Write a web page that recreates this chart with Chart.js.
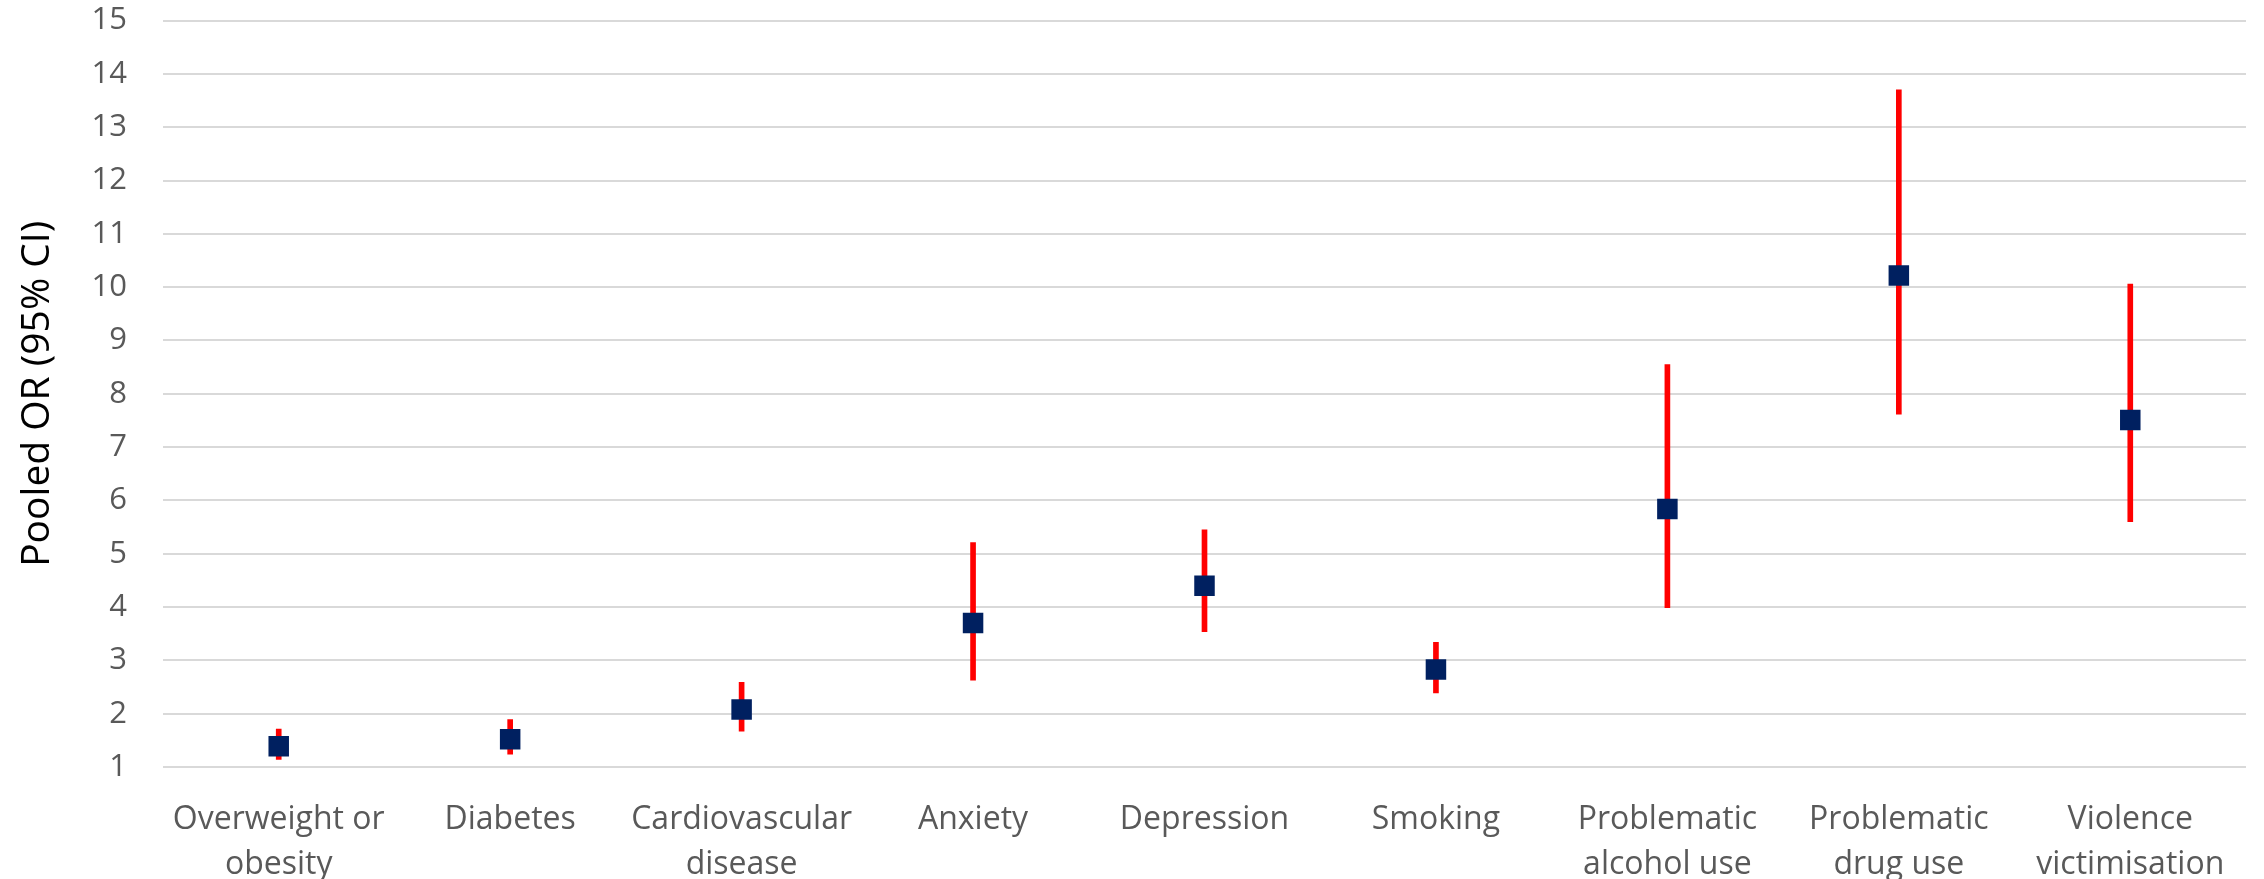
<!DOCTYPE html>
<html>
<head>
<meta charset="utf-8">
<script src="https://cdn.jsdelivr.net/npm/chart.js@4.4.1/dist/chart.umd.min.js"></script>
<style>
  html, body { margin: 0; padding: 0; background: #fff; }
  #wrap { width: 2264px; height: 879px; position: relative; }
</style>
</head>
<body>
<div id="wrap"><canvas id="orChart"></canvas></div>
<script>
const categories = [
    ['Overweight or', 'obesity'],
    'Diabetes',
    ['Cardiovascular', 'disease'],
    'Anxiety',
    'Depression',
    'Smoking',
    ['Problematic', 'alcohol use'],
    ['Problematic', 'drug use'],
    ['Violence', 'victimisation']
];
const pooledOR = [1.39, 1.52, 2.08, 3.70, 4.40, 2.83, 5.84, 10.22, 7.51];
const ciLower  = [1.14, 1.24, 1.67, 2.63, 3.54, 2.39, 3.99, 7.62, 5.60];
const ciUpper  = [1.71, 1.89, 2.59, 5.21, 5.45, 3.34, 8.55, 13.70, 10.06];
const yTicks = [1, 15];

document.addEventListener("DOMContentLoaded", () => {
    const ctx = document.getElementById('orChart').getContext('2d');
    const ciRanges = ciLower.map((lo, i) => [lo, ciUpper[i]]);

    new Chart(ctx, {
        data: {
            labels: categories,
            datasets: [{
                type: 'bar',
                label: '95% CI',
                data: ciRanges,
                backgroundColor: '#ff0000',
                borderWidth: 0,
                barThickness: 5,
                order: 2
            }, {
                type: 'line',
                label: 'Pooled OR',
                data: pooledOR,
                showLine: false,
                pointStyle: 'rect',
                pointRadius: 14.5,
                pointBackgroundColor: '#002060',
                pointBorderColor: '#002060',
                pointBorderWidth: 0,
                order: 1
            }]
        },
        options: {
            responsive: true,
            maintainAspectRatio: false,
            animation: false,
            layout: { padding: { top: 0, right: 18, left: 0, bottom: 0 } },
            plugins: {
                legend: { display: false },
                tooltip: { enabled: false }
            },
            scales: {
                x: {
                    offset: true,
                    grid: { display: false },
                    border: { display: false },
                    ticks: {
                        color: '#595959',
                        font: { family: 'Open Sans', size: 32, lineHeight: 1.42 },
                        maxRotation: 0,
                        autoSkip: false,
                        padding: 22
                    },
                    afterFit: (scale) => { scale.height = 112; }
                },
                y: {
                    min: yTicks[0],
                    max: yTicks[1],
                    grid: {
                        color: '#d9d9d9',
                        lineWidth: 2,
                        drawTicks: true,
                        tickLength: 34,
                        tickColor: 'rgba(0,0,0,0)'
                    },
                    border: { display: false },
                    ticks: {
                        stepSize: 1,
                        color: '#595959',
                        font: { family: 'Open Sans', size: 31 },
                        padding: 2
                    },
                    title: {
                        display: true,
                        text: 'Pooled OR (95% CI)',
                        color: '#000',
                        font: { family: "'Liberation Sans Narrow', 'Open Sans', sans-serif", size: 39 },
                        padding: { top: 14, bottom: 4 }
                    },
                    afterFit: (scale) => { scale.width = 163; }
                }
            }
        }
    });
});
</script>
</body>
</html>
